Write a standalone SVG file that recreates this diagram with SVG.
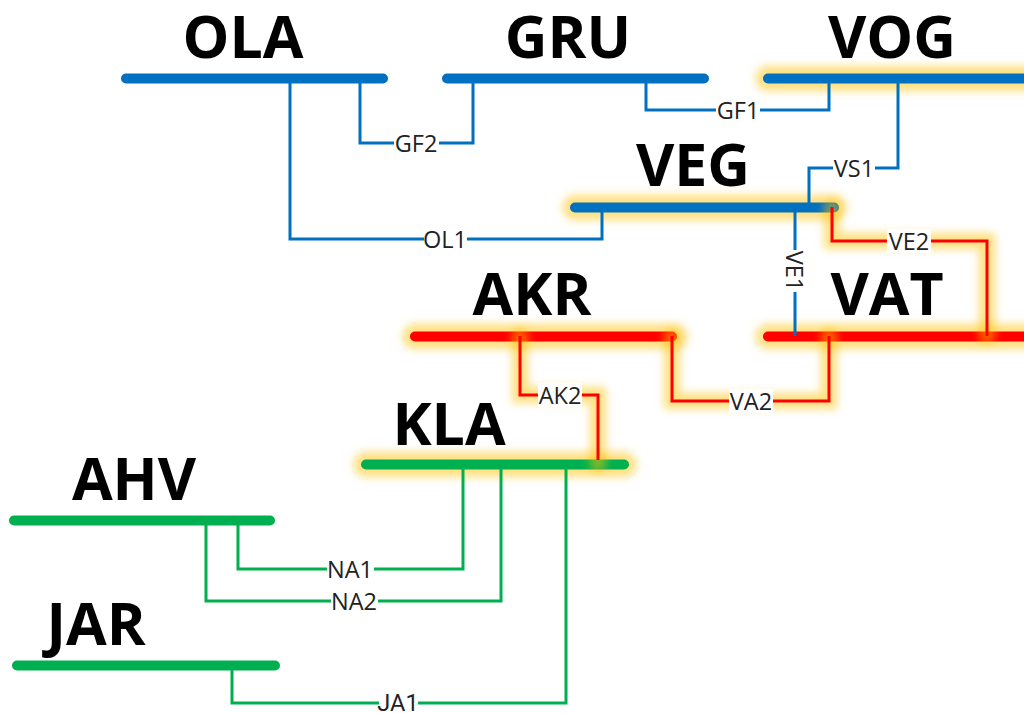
<svg xmlns="http://www.w3.org/2000/svg" width="1024" height="713" viewBox="0 0 1024 713">
<defs>
<filter id="glow" filterUnits="userSpaceOnUse" x="0" y="0" width="1024" height="713"><feGaussianBlur stdDeviation="4"/></filter>
</defs>
<style>
text{font-family:"Open Sans","Liberation Sans",sans-serif;fill:#000}
.n{font-size:59px;font-weight:700;text-anchor:middle}
.l{font-size:23.5px;text-anchor:middle;dominant-baseline:central;fill:#222}
.j{font-family:Roboto,"Open Sans",sans-serif}
.bus{fill:none;stroke-width:10px;stroke-linecap:round}
.w{fill:none;stroke-width:3px}
.halo{fill:none;stroke:#ffc000;stroke-opacity:.5;filter:url(#glow);stroke-linecap:round}
.b{stroke:#0070c0}.r{stroke:#ff0000}.g{stroke:#00b050}
.bg{fill:#fff;stroke:none}
</style>
<rect width="1024" height="713" fill="#fff"/>
<g id="bus-halos">
<path class="halo" stroke-width="25" d="M768 78.500H1040"/>
<path class="halo" stroke-width="25" d="M575 207.500H834"/>
<path class="halo" stroke-width="25" d="M415 336.500H675"/>
<path class="halo" stroke-width="25" d="M768 336.500H1040"/>
<path class="halo" stroke-width="25" d="M366 464.500H624"/>
</g>
<g id="node-OLA"><path class="bus b" d="M126 78.500H383"/><text class="n" x="243" y="58">OLA</text></g>
<g id="node-GRU"><path class="bus b" d="M447 78.500H704"/><text class="n" x="568" y="58">GRU</text></g>
<g id="node-VOG"><path class="bus b" d="M768 78.500H1024"/><text class="n" x="892" y="58">VOG</text></g>
<g id="node-VEG"><path class="bus b" d="M575 207.500H834"/><text class="n" x="693" y="186">VEG</text></g>
<g id="node-AKR"><path class="bus r" d="M415 336.500H672"/><text class="n" x="532" y="315">AKR</text></g>
<g id="node-VAT"><path class="bus r" d="M768 336.500H1024"/><text class="n" x="887" y="315">VAT</text></g>
<g id="node-KLA"><path class="bus g" d="M366 464.500H624"/><text class="n" x="449" y="445">KLA</text></g>
<g id="node-AHV"><path class="bus g" d="M14 520.500H270"/><text class="n" x="134" y="500">AHV</text></g>
<g id="node-JAR"><path class="bus g" d="M17 665.500H275"/><text class="n" x="96" y="645">JAR</text></g>
<g id="connectors">
<path class="halo" stroke-width="16" d="M832 207V241H987V336M520 336V395H598V464M672 336V401H829V336"/>
<path class="w b" d="M360 78V143H473V78"/>
<path class="w b" d="M646 78V110H829V78"/>
<path class="w b" d="M898 78V168H809V207"/>
<path class="w b" d="M290 78V239H602V207"/>
<path class="w b" d="M795 207V336"/>
<path class="w r" d="M832 207V241H987V336"/>
<path class="w r" d="M520 336V395H598V460"/>
<path class="w r" d="M672 336V401H829V336"/>
<path class="w g" d="M238 520V569H463V464"/>
<path class="w g" d="M206 520V601H501V464"/>
<path class="w g" d="M232 665V703H566V464"/>
</g>
<g id="labels">
<rect class="bg" x="394" y="131" width="45" height="24"/><text class="l" x="416" y="143">GF2</text>
<rect class="bg" x="716" y="98" width="44" height="24"/><text class="l" x="738" y="110">GF1</text>
<rect class="bg" x="833" y="156" width="42" height="24"/><text class="l" x="854" y="168">VS1</text>
<rect class="bg" x="424" y="227" width="43" height="24"/><text class="l" x="445" y="239">OL1</text>
<rect class="bg" x="887" y="229" width="44" height="24"/><text class="l" x="909" y="241">VE2</text>
<rect class="bg" x="783" y="250" width="24" height="42"/><text class="l" transform="translate(795 271) rotate(90)">VE1</text>
<rect class="bg" x="538" y="383" width="44" height="24"/><text class="l" x="560" y="395">AK2</text>
<rect class="bg" x="729" y="389" width="44" height="24"/><text class="l" x="751" y="401">VA2</text>
<rect class="bg" x="327" y="557" width="47" height="24"/><text class="l" x="350" y="569">NA1</text>
<rect class="bg" x="331" y="589" width="47" height="24"/><text class="l" x="354" y="601">NA2</text>
<rect class="bg" x="379" y="691" width="39" height="22"/><text class="l j" x="398" y="703">JA1</text>
</g>
</svg>
